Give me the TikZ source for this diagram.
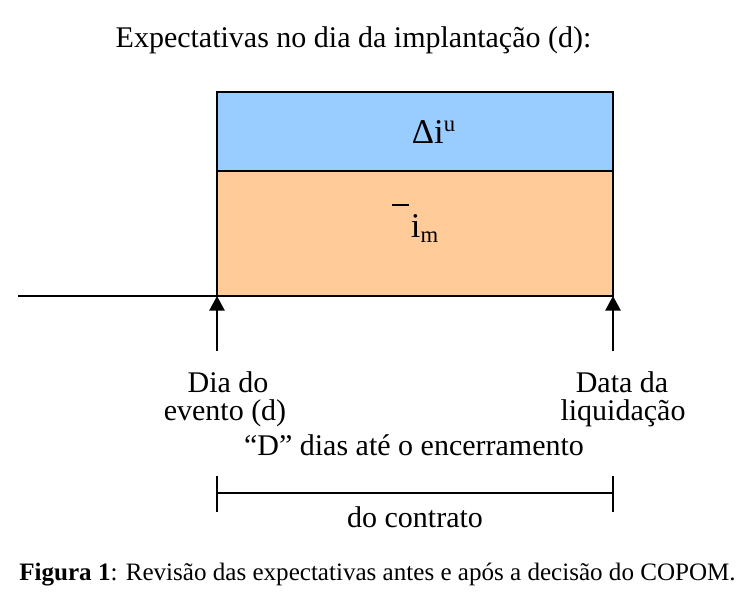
\documentclass[tikz,border=0pt]{standalone}
\usepackage{fontspec}
\setmainfont{Liberation Serif}
\usetikzlibrary{arrows.meta}
\definecolor{boxblue}{HTML}{99CCFF}
\definecolor{boxorange}{HTML}{FFCC99}
\tikzset{
  lbl/.style={anchor=base, inner sep=0pt, font=\fontsize{22.5}{27}\selectfont},
  boxlbl/.style={anchor=base, inner sep=0pt, font=\fontsize{26}{30}\selectfont},
  captext/.style={anchor=base, inner sep=0pt, font=\fontsize{18.8}{22}\selectfont},
  box/.style={draw=black, line width=1.4pt},
  upar/.style={line width=1.4pt, -{Triangle[length=11pt,width=11.5pt]}},
  thinline/.style={line width=1.4pt},
}
\begin{document}
\begin{tikzpicture}[x=0.75pt,y=-0.75pt]
\useasboundingbox (0,0) rectangle (747,600);
% rectangles
\coordinate (tl) at (217,92);
\coordinate (ml) at (217,171);
\coordinate (mr) at (613,171);
\coordinate (bl) at (217,296);
\coordinate (br) at (613,296);
\filldraw[box, fill=boxorange] (ml) rectangle (br);
\filldraw[box, fill=boxblue] (tl) rectangle (mr);
% baseline line
\coordinate (ls) at (18,296);
\draw[thinline] (ls) -- (bl);
% arrows
\coordinate (a1) at (217,351);
\coordinate (a2) at (613,351);
\draw[upar] (a1) -- (bl);
\draw[upar] (a2) -- (br);
% bracket
\coordinate (bL) at (217,493);
\coordinate (bR) at (613,493);
\draw[thinline] (bL) -- (bR);
\draw[thinline] (217,476) -- (217,512);
\draw[thinline] (613,476) -- (613,512);
% texts
\node[lbl] (title) at (353.5,47.7) {Expectativas no dia da implantação (d):};
\node[boxlbl] (delta) at (433.5,143) {Δi\raisebox{9pt}{\fontsize{17}{20}\selectfont u}};
\node[boxlbl] (im) at (424.5,237) {\makebox[0pt][r]{\raisebox{23pt}{\rule{12.75pt}{1.5pt}}\hspace{1.5pt}}i\raisebox{-4pt}{\fontsize{17}{20}\selectfont m}};
\node[lbl] (dia1) at (228,392) {Dia do};
\node[lbl] (dia2) at (225,420) {evento (d)};
\node[lbl] (data1) at (622,392) {Data da};
\node[lbl] (data2) at (623,420) {liquidação};
\node[lbl] (dd) at (414,455) {“D” dias até o encerramento};
\node[lbl] (dc) at (415,527) {do contrato};
\node[captext] (caption) at (377.5,580) {\textbf{Figura 1}: Revisão das expectativas antes e após a decisão do COPOM.};
\end{tikzpicture}
\end{document}
